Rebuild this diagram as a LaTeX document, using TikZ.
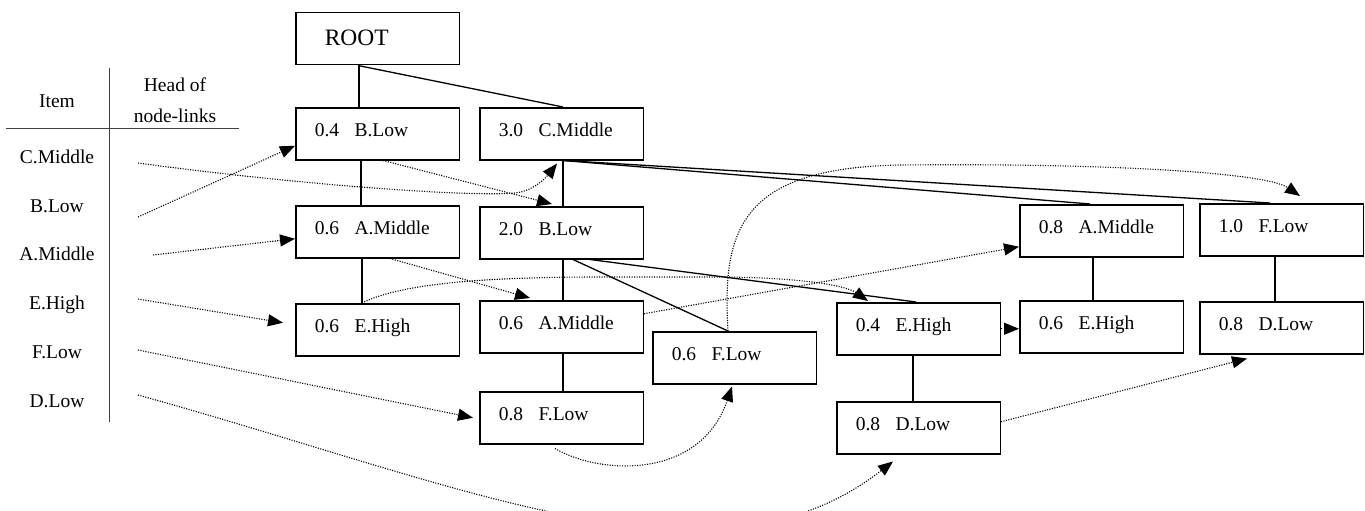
\documentclass[tikz,border=0pt]{standalone}
\usepackage{fontspec}
\setmainfont{Liberation Serif}
\usetikzlibrary{arrows.meta}
\newcommand{\ent}[2]{#1\hspace{15.5pt}#2}
\begin{document}
\begin{tikzpicture}[x=1pt,y=-1pt,
  box/.style={draw, line width=1.5pt, anchor=north west, inner xsep=19pt, inner ysep=0pt,
    text width=125.5pt, align=left, text height=29pt, text depth=23pt,
    font=\fontsize{19.5}{22}\selectfont},
  rootbox/.style={box, inner xsep=29pt, text width=105.5pt, text height=33pt, text depth=19pt,
    font=\fontsize{23.5}{26}\selectfont},
  lab/.style={anchor=base, inner sep=0pt, font=\fontsize{19.5}{22}\selectfont},
  tree/.style={line width=1.3pt},
  tbl/.style={line width=1pt, black!75},
  link/.style={line width=1.1pt, dash pattern=on 1.1pt off 1.4pt,
    -{Triangle[length=15pt,width=12pt]}}
]
\useasboundingbox (0,0) rectangle (1365,511);

% table
\draw[tbl] (109,68) -- (109,422);
\draw[tbl] (6,128) -- (239,128);
\node[lab] (hitem) at (57,107) {Item};
\node[lab] (hhead1) at (175,92) {Head of};
\node[lab] (hhead2) at (175,122) {node-links};
\node[lab] (lc) at (57,163) {C.Middle};
\node[lab] (lb) at (57,212) {B.Low};
\node[lab] (la) at (57,260) {A.Middle};
\node[lab] (le) at (57,309) {E.High};
\node[lab] (lf) at (57,358) {F.Low};
\node[lab] (ld) at (57,407) {D.Low};

% tree nodes
\node[rootbox] (root) at (295,12) {ROOT};
\node[box] (b1) at (295,107) {\ent{0.4}{B.Low}};
\node[box] (c1) at (479,107) {\ent{3.0}{C.Middle}};
\node[box] (a1) at (295,205) {\ent{0.6}{A.Middle}};
\node[box] (b2) at (479,206) {\ent{2.0}{B.Low}};
\node[box] (e1) at (295,303) {\ent{0.6}{E.High}};
\node[box] (a2) at (479,300) {\ent{0.6}{A.Middle}};
\node[box] (f1) at (652,331) {\ent{0.6}{F.Low}};
\node[box] (f2) at (479,391) {\ent{0.8}{F.Low}};
\node[box] (e2) at (836,302) {\ent{0.4}{E.High}};
\node[box] (d1) at (836,401) {\ent{0.8}{D.Low}};
\node[box] (a3) at (1019,204) {\ent{0.8}{A.Middle}};
\node[box] (e3) at (1019,300) {\ent{0.6}{E.High}};
\node[box] (f3) at (1199,203) {\ent{1.0}{F.Low}};
\node[box] (d2) at (1199,301) {\ent{0.8}{D.Low}};

% tree edges
\draw[tree] ([xshift=64pt]root.south west) -- ([xshift=64pt]b1.north west);
\draw[tree] ([xshift=63pt]root.south west) -- ([xshift=84pt]c1.north west);
\draw[tree] ([xshift=66pt]b1.south west) -- ([xshift=66pt]a1.north west);
\draw[tree] ([xshift=67pt]a1.south west) -- ([xshift=67pt]e1.north west);
\draw[tree] ([xshift=84pt]c1.south west) -- ([xshift=84pt]b2.north west);
\draw[tree] ([xshift=84pt]c1.south west) -- ([xshift=71pt]a3.north west);
\draw[tree] ([xshift=85pt]c1.south west) -- ([xshift=71pt]f3.north west);
\draw[tree] ([xshift=84pt]b2.south west) -- ([xshift=84pt]a2.north west);
\draw[tree] ([xshift=94pt]b2.south west) -- ([xshift=76pt]f1.north west);
\draw[tree] ([xshift=111pt]b2.south west) -- ([xshift=80pt]e2.north west);
\draw[tree] ([xshift=84pt]a2.south west) -- ([xshift=84pt]f2.north west);
\draw[tree] ([xshift=77pt]e2.south west) -- ([xshift=77pt]d1.north west);
\draw[tree] ([xshift=74pt]a3.south west) -- ([xshift=74pt]e3.north west);
\draw[tree] ([xshift=76pt]f3.south west) -- ([xshift=76pt]d2.north west);

% node-link starts
\coordinate (sc) at (138,163);
\coordinate (sb) at (138,217);
\coordinate (sa) at (153,255);
\coordinate (se) at (138,299);
\coordinate (sf) at (138,350);
\coordinate (sd) at (138,395);

% node-links
\draw[link] (sc) .. controls (300,185) and (470,197) .. (515,193)
  .. controls (535,191) and (548,175) .. ([xshift=78pt,yshift=-3pt]c1.south west);
\draw[link] (sb) -- ([yshift=-12pt]b1.west);
\draw[link] ([xshift=88pt]b1.south west) -- ([xshift=73pt,yshift=2pt]b2.north west);
\draw[link] (sa) -- ([yshift=-7pt]a1.west);
\draw[link] ([xshift=95pt]a1.south west) -- ([xshift=51pt,yshift=2pt]a2.north west);
\draw[link] ([yshift=13pt]a2.east) -- ([yshift=-16pt]a3.west);
\draw[link] (se) -- ([xshift=-12pt,yshift=7pt]e1.west);
\draw[link] ([xshift=67pt]e1.north west) .. controls (400,284) and (480,277) .. (600,277)
  -- (727,277) .. controls (800,278) and (845,285) .. ([xshift=32pt,yshift=1pt]e2.north west);
\draw[link] (e2.east) -- (e2.east -| e3.west);
\draw[link] (sf) -- ([xshift=-6pt]f2.west);
\draw[link] ([xshift=76pt,yshift=-4pt]f2.south west) .. controls (600,475) and (700,480)
  .. ([xshift=80pt,yshift=-2pt]f1.south west);
\draw[link] ([xshift=76pt]f1.north west) .. controls (722,230) and (740,168) .. (900,165)
  .. controls (1100,163) and (1265,172) .. ([xshift=101pt,yshift=7pt]f3.north west);
\draw[link] (sd) .. controls (470,487) and (713,601) .. ([xshift=57pt,yshift=-7pt]d1.south west);
\draw[link] ([yshift=6pt]d1.east) -- ([xshift=48pt,yshift=-4pt]d2.south west);
\end{tikzpicture}
\end{document}
